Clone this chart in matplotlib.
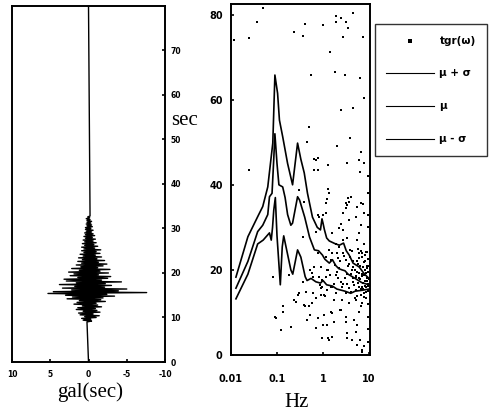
import numpy as np
import matplotlib.pyplot as plt

# seismogram (gal), sampled every 0.2 s starting at 9.0 s
wave_t0 = 9.0
wave_dt = 0.2
wave_acc = [0.2, -0.4, 0.7, -0.3, 0.9, -1.0, 0.5, -1.4, 1.1, -0.6,
            1.3, -1.5, 0.7, -1.1, 1.6, -0.9, 1.4, -1.7, 0.8, -1.2,
            1.9, -1.0, 1.5, -2.2, 1.2, -1.6, 2.8, -1.9, 2.1, -3.4,
            3.0, -2.4, 5.3, -7.6, 4.6, -3.9, 2.2, -5.0, 3.4, -2.1,
            1.8, -3.0, 3.8, -2.2, 1.6, -4.3, 2.9, -1.7, 3.2, -2.5,
            1.4, -2.9, 2.4, -1.3, 1.9, -2.6, 2.6, -1.5, 1.2, -2.8,
            2.2, -1.2, 1.0, -1.9, 1.6, -2.4, 0.9, -1.3, 1.4, -2.1,
            0.8, -1.1, 1.3, -1.7, 0.7, -0.9, 1.1, -1.5, 0.6, -1.0,
            0.9, -1.6, 0.6, -0.8, 0.9, -1.2, 0.5, -0.7, 0.8, -1.0,
            0.5, -0.6, 0.7, -0.9, 0.4, -0.5, 0.6, -0.8, 0.4, -0.6,
            0.5, -0.4, 0.3, -0.6, 0.4, -0.3, 0.4, -0.5, 0.2, -0.4,
            0.3, -0.3, 0.2, -0.4, 0.2, -0.2, 0.3, -0.15, 0.1, -0.2]
record_start = 0.0
record_end = 80.0

# spectra: mu + sigma, mu, mu - sigma
f_up = [0.0128, 0.0233, 0.038, 0.049, 0.063, 0.081, 0.09, 0.103, 0.113, 0.133,
        0.17, 0.218, 0.28, 0.33, 0.391, 0.46, 0.59, 0.75, 0.88, 0.95,
        1.0, 1.07, 1.2, 1.37, 1.8, 2.26, 2.8, 3.2, 3.7, 4.5, 6.1, 8.0, 10.0]
v_up = [18.3, 27.8, 32.5, 34.9, 39.5, 49.8, 65.8, 61.5, 55.2, 51.3,
        45.0, 40.0, 49.8, 46.0, 42.8, 38.0, 32.4, 30.0, 29.4, 32.0,
        31.0, 29.5, 27.5, 26.8, 26.2, 25.8, 26.3, 24.5, 23.5, 21.6, 20.7, 19.0, 18.0]

f_mid = [0.0128, 0.0233, 0.038, 0.049, 0.063, 0.0686, 0.078, 0.085, 0.09, 0.1,
         0.11, 0.133, 0.15, 0.17, 0.2, 0.218, 0.28, 0.31, 0.4, 0.51,
         0.65, 0.8, 0.97, 1.1, 1.37, 1.6, 1.9, 2.2, 2.6, 3.0, 3.5, 5.0, 7.0, 10.0]
v_mid = [15.7, 22.0, 29.0, 30.5, 33.0, 37.2, 38.0, 46.0, 52.0, 45.0,
         40.0, 39.5, 37.0, 33.0, 30.5, 31.0, 37.2, 36.4, 32.4, 27.7,
         24.7, 24.5, 23.5, 22.5, 21.6, 22.4, 21.0, 20.3, 20.0, 19.8, 19.0, 18.0, 17.0, 16.5]

f_lo = [0.0128, 0.0233, 0.038, 0.05, 0.0686, 0.075, 0.08, 0.085, 0.092, 0.1,
        0.118, 0.13, 0.14, 0.16, 0.2, 0.22, 0.25, 0.28, 0.33, 0.41,
        0.45, 0.55, 0.7, 0.88, 1.0, 1.2, 1.6, 2.0, 3.0, 4.0, 5.0, 7.0, 10.0]
v_lo = [13.2, 19.0, 26.1, 27.0, 28.7, 27.0, 30.0, 34.0, 37.0, 28.0,
        16.5, 25.4, 28.0, 25.0, 20.0, 19.0, 22.0, 24.7, 23.0, 18.4,
        17.5, 18.0, 17.2, 16.9, 17.5, 16.5, 16.2, 15.5, 15.0, 14.5, 15.0, 15.2, 15.5]

# tgr(omega) points
tgr_f = [0.0115, 0.0245, 0.036, 0.049, 0.24, 0.40, 0.36, 1.02, 1.9, 1.9, 2.5, 3.1, 4.6, 3.5,
         2.75, 7.3, 1.45, 0.56, 1.84, 3.0, 6.4, 7.8, 4.6, 2.5, 0.49, 0.46, 3.8, 2.0, 6.7,
         6.1, 7.8, 0.65, 0.79, 0.65, 1.26, 3.3, 6.4, 0.0245, 1.3, 1.25, 3.5, 3.2, 7.5,
         0.69, 0.76, 0.30, 0.39, 0.82, 0.36, 0.69, 0.76, 0.64, 0.081, 0.18, 0.28, 0.59, 0.82,
         0.133, 0.26, 0.30, 0.095, 0.122, 0.2, 0.39, 0.50, 0.59, 0.69, 0.46, 0.76, 1.05, 1.46,
         1.72, 1.24, 0.97, 1.34, 3.34, 4.3, 6.5, 7.7, 7.1, 4.7, 5.5, 6.0, 3.1, 2.4, 0.89, 1.24,
         1.72, 2.6, 3.6, 5.0, 7.1, 0.97, 1.24, 2.0, 1.46, 2.0, 3.1, 3.9, 6.0, 7.7, 1.72, 2.6, 0.97,
         4.0, 3.7, 3.1, 2.7, 1.37, 1.17, 0.98, 5.6, 6.7, 5.2, 0.77, 3.7, 2.26, 2.7, 3.4, 6.1,
         5.6, 6.7, 1.6, 1.37, 1.6, 1.17, 2.1, 2.7, 0.91, 1.26, 1.9, 4.4, 5.2, 3.4, 2.5, 1.5,
         0.84, 0.60, 0.51, 0.43, 1.07, 1.9, 4.0, 0.36, 2.26,
         0.089, 0.135, 0.24, 0.40, 0.60, 0.91, 1.26, 1.6, 0.98, 0.71, 0.51, 1.6, 2.5, 3.1,
         5.2, 3.4, 5.6, 7.2, 1.17, 1.6, 2.1, 2.7, 3.7, 4.4, 5.2, 6.7, 7.8, 1.9, 2.7, 7.8,
         1.17, 2.5, 3.4,
         5.0, 5.5, 6.0, 6.5, 7.0, 7.5, 8.0, 8.5, 9.0, 9.5, 6.2, 7.2, 8.2, 9.2, 5.8, 4.8,
         7.8, 8.8, 9.6, 6.8, 5.3, 4.5, 4.0, 3.5, 3.0, 7.0, 8.0, 9.3, 9.8, 6.6, 5.6, 4.2,
         3.8, 9.5, 8.6, 7.4, 6.2, 5.1, 3.2,
         9.6, 9.6, 9.6, 9.6, 9.6, 9.6, 9.6, 9.6,
         6.9, 7.6, 8.4, 9.1, 5.9, 6.4, 7.3, 8.1, 8.9, 9.7, 5.4, 6.1, 7.9, 8.7, 9.4, 4.6,
         6.7, 7.1, 8.3, 9.0, 5.7, 4.3, 3.6, 2.9, 2.2, 1.8, 1.4, 3.3, 2.4, 1.1]
tgr_v = [74.0, 74.5, 78.3, 81.5, 76.0, 77.8, 75.0, 77.5, 79.7, 78.2, 79.2, 78.3, 80.4, 76.8,
         74.7, 74.7, 71.2, 65.8, 66.5, 65.8, 65.0, 60.4, 58.0, 57.6, 53.6, 50.0, 51.0, 49.1, 47.7,
         45.8, 45.1, 46.0, 46.3, 43.5, 44.6, 45.1, 43.0, 43.5, 39.0, 36.7, 37.0, 35.7, 35.5,
         45.8, 43.5, 38.8, 36.0, 32.5, 27.8, 29.0, 23.9, 20.7, 18.4, 18.8, 14.1, 19.2, 18.4,
         10.2, 12.5, 14.5, 8.6, 5.9, 6.5, 11.8, 11.4, 12.2, 13.3, 8.2, 8.6, 9.4, 10.2,
         7.8, 7.1, 3.9, 3.5, 5.1, 3.5, 3.5, 2.0, 0.8, 8.2, 7.1, 10.2, 9.0, 10.6, 14.1, 15.3,
         12.9, 12.9, 12.2, 13.3, 12.2, 17.6, 20.0, 19.6, 22.3, 23.9, 22.3, 24.7, 23.9, 26.2, 16.8, 16.0, 16.0,
         37.2, 36.0, 34.5, 33.3, 38.0, 35.7, 32.9, 34.9, 35.7, 32.5, 32.9, 31.7, 29.8, 29.4, 27.4, 28.6,
         27.0, 30.6, 28.6, 24.7, 23.9, 23.1, 22.7, 23.9, 20.7, 20.0, 18.8, 20.7, 18.4, 16.8, 17.2, 16.0,
         16.4, 18.4, 20.0, 14.9, 14.1, 14.5, 14.9, 17.2, 25.4,
         9.0, 11.4, 12.9, 11.4, 14.5, 15.7, 3.9, 4.3, 7.1, 6.3, 9.4, 9.8, 10.6, 7.8,
         5.5, 3.9, 2.3, 1.2, 18.4, 16.0, 18.0, 16.8, 15.7, 17.2, 12.9, 11.4, 13.7, 26.2, 27.0, 33.3,
         33.3, 30.9, 35.3,
         20.0, 22.0, 18.0, 21.0, 19.0, 17.0, 20.0, 16.0, 18.0, 15.0, 16.0, 23.0, 22.0, 21.0, 25.0, 16.5,
         14.5, 13.5, 19.5, 24.5, 18.5, 22.0, 19.0, 21.0, 18.0, 16.0, 17.5, 16.8, 17.8, 14.2, 13.8, 24.5,
         23.0, 22.5, 24.2, 20.7, 19.3, 15.2, 14.6,
         30.0, 33.0, 38.0, 42.0, 12.0, 9.0, 6.0, 3.0,
         18.6, 21.8, 19.2, 17.4, 21.3, 17.8, 15.6, 23.6, 20.4, 16.3, 19.6, 22.7, 18.9, 14.8, 20.9, 18.2,
         15.4, 23.9, 16.1, 24.1, 17.0, 19.9, 21.5, 23.2, 20.5, 21.2, 18.7, 19.1, 22.1, 13.9]

t_wave = wave_t0 + wave_dt * np.arange(len(wave_acc))
t_all = np.concatenate([[record_start], t_wave, [record_end]])
acc_all = np.concatenate([[0.0], wave_acc, [0.0]])

fig = plt.figure(figsize=(4.92, 4.15), dpi=100)
serif = 'Liberation Serif'

# left panel: time history
ax1 = fig.add_axes([0.0244, 0.1277, 0.311, 0.858])
ax1.plot(acc_all, t_all, color='black', lw=1.0)
ax1.set_xlim(10, -10)
ax1.set_ylim(0, 80)
ax1.yaxis.tick_right()
ax1.set_yticks(range(0, 80, 10))
ax1.set_xticks([10, 5, 0, -5, -10])
ax1.set_xticklabels(['10', '5', '0', '-5', '-10'])
ax1.tick_params(direction='in', length=2, width=1.2, labelsize=5.5, pad=4)
ax1.tick_params(axis='x', pad=6)
for lab in ax1.get_xticklabels() + ax1.get_yticklabels():
    lab.set_fontweight('bold')
for sp in ax1.spines.values():
    sp.set_linewidth(1.4)

# right panel: spectra
ax2 = fig.add_axes([0.4695, 0.1446, 0.2825, 0.8458])
pts = ax2.scatter(tgr_f, tgr_v, s=3, color='black', marker='s', linewidths=0,
                  label='tgr(\u03c9)')
l1, = ax2.plot(f_up, v_up, color='black', lw=1.2, label='\u03bc + \u03c3')
l2, = ax2.plot(f_mid, v_mid, color='black', lw=1.2, label='\u03bc')
l3, = ax2.plot(f_lo, v_lo, color='black', lw=1.2, label='\u03bc - \u03c3')
ax2.set_xscale('log')
ax2.set_xlim(0.01, 10.5)
ax2.set_ylim(0, 82.5)
ax2.set_xticks([0.01, 0.1, 1, 10])
ax2.set_xticklabels(['0.01', '0.1', '1', '10'])
ax2.minorticks_off()
ax2.set_yticks([0, 20, 40, 60, 80])
ax2.tick_params(direction='in', length=2, width=1.2, labelsize=7)
ax2.tick_params(axis='x', pad=14)
ax2.tick_params(axis='y', pad=6)
for lab in ax2.get_xticklabels() + ax2.get_yticklabels():
    lab.set_fontweight('bold')
for sp in ax2.spines.values():
    sp.set_linewidth(1.4)

leg = fig.legend(handles=[pts, l1, l2, l3], loc='upper left',
                 bbox_to_anchor=(0.762, 0.942), frameon=True, fancybox=False,
                 edgecolor='black', labelspacing=2.2, handlelength=4.6,
                 borderpad=1.1, handletextpad=0.5, markerscale=1.3,
                 borderaxespad=0.0,
                 prop=dict(family='DejaVu Sans', weight='bold', size=7.5))
leg.get_frame().set_linewidth(1.0)
for h in leg.legend_handles[1:]:
    h.set_linewidth(0.8)

fig.text(185 / 492, 1 - 120 / 415, 'sec', family=serif, fontsize=15,
         ha='center', va='center')
fig.text(90 / 492, 1 - 392 / 415, 'gal(sec)', family=serif, fontsize=15,
         ha='center', va='center')
fig.text(297 / 492, 1 - 402 / 415, 'Hz', family=serif, fontsize=15,
         ha='center', va='center')

fig.savefig('out.png', dpi=100)
